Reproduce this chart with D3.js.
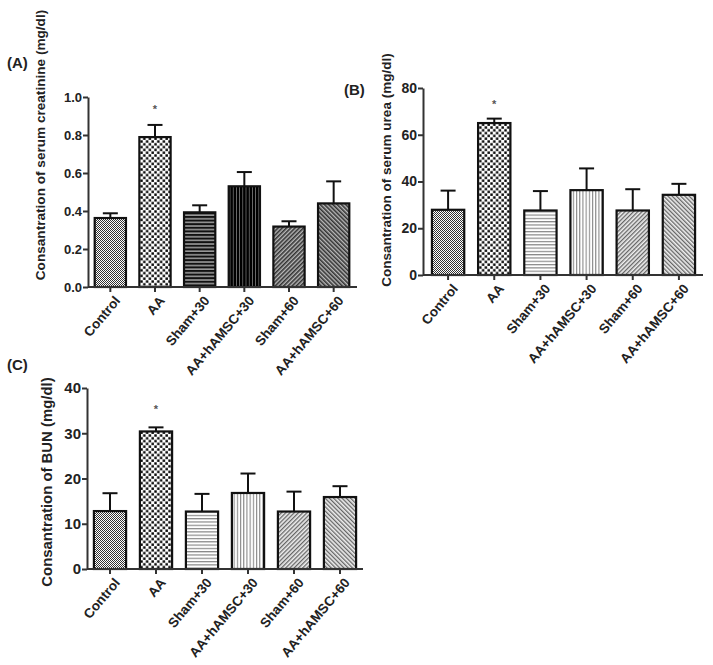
<!DOCTYPE html>
<html><head><meta charset="utf-8">
<script src="https://cdn.jsdelivr.net/npm/d3@7"></script>
<style>
body{margin:0;background:#fff;}
text{font-family:"Liberation Sans",Arial,sans-serif;font-weight:bold;fill:#222;}
</style></head>
<body>
<svg id="chart" width="713" height="665"></svg>
<script>
const categories = ["Control","AA","Sham+30","AA+hAMSC+30","Sham+60","AA+hAMSC+60"];
const creatinineMean = [0.363, 0.789, 0.393, 0.53, 0.318, 0.44];
const creatinineErr  = [0.025, 0.064, 0.037, 0.075, 0.028, 0.116];
const ureaMean = [27.9, 65.0, 27.6, 36.3, 27.6, 34.3];
const ureaErr  = [8.2, 1.9, 8.3, 9.3, 9.1, 4.7];
const bunMean = [12.8, 30.4, 12.7, 16.8, 12.7, 15.9];
const bunErr  = [3.95, 0.9, 3.9, 4.3, 4.4, 2.4];
const creatinineTicks = [0, 0.2, 0.4, 0.6, 0.8, 1.0];
const ureaTicks = [0, 20, 40, 60, 80];
const bunTicks = [0, 10, 20, 30, 40];

const svg = d3.select("#chart");
const defs = svg.append("defs");

function pat(id, w, h, bg, draw, transform){
  const p = defs.append("pattern").attr("id", id).attr("patternUnits","userSpaceOnUse")
    .attr("width", w).attr("height", h);
  if (transform) p.attr("patternTransform", transform);
  p.append("rect").attr("width", w).attr("height", h).attr("fill", bg);
  draw(p);
}
["d","l"].forEach(s=>{
  pat("ctrl"+s, 2, 2, "#fff", p=>{
    p.append("rect").attr("x",0).attr("y",0).attr("width",1).attr("height",1).attr("fill", "#333");
    p.append("rect").attr("x",1).attr("y",1).attr("width",1).attr("height",1).attr("fill", "#333");
  });
  pat("aa"+s, 5.6, 5.6, "#fff", p=>{
    p.append("rect").attr("x",0.3).attr("y",0.3).attr("width",2.4).attr("height",2.4).attr("fill","#000");
    p.append("rect").attr("x",3.1).attr("y",3.1).attr("width",2.4).attr("height",2.4).attr("fill","#000");
  });
});
pat("hd", 4, 3.6, "#999", p=>{ p.append("rect").attr("x",0).attr("y",0).attr("width",4).attr("height",2).attr("fill","#111"); });
pat("hl", 4, 3.3, "#fff", p=>{ p.append("rect").attr("x",0).attr("y",0).attr("width",4).attr("height",1.2).attr("fill","#888"); });
pat("vd", 3.2, 4, "#777", p=>{ p.append("rect").attr("x",0).attr("y",0).attr("width",2.4).attr("height",4).attr("fill","#000"); });
pat("vl", 3.2, 4, "#fff", p=>{ p.append("rect").attr("x",0).attr("y",0).attr("width",1.1).attr("height",4).attr("fill","#888"); });
pat("sd", 3, 3, "#bbb", p=>{ p.append("rect").attr("x",0).attr("y",0).attr("width",1.6).attr("height",3).attr("fill","#333"); }, "rotate(45)");
pat("sl", 3, 3, "#eee", p=>{ p.append("rect").attr("x",0).attr("y",0).attr("width",1.3).attr("height",3).attr("fill","#666"); }, "rotate(45)");
pat("bd", 3, 3, "#bbb", p=>{ p.append("rect").attr("x",0).attr("y",0).attr("width",1.6).attr("height",3).attr("fill","#333"); }, "rotate(-45)");
pat("bl", 3, 3, "#eee", p=>{ p.append("rect").attr("x",0).attr("y",0).attr("width",1.3).attr("height",3).attr("fill","#666"); }, "rotate(-45)");

const fillsDark  = ["url(#ctrld)","url(#aad)","url(#hd)","url(#vd)","url(#sd)","url(#bd)"];
const fillsLight = ["url(#ctrll)","url(#aal)","url(#hl)","url(#vl)","url(#sl)","url(#bl)"];

function panel(cfg){
  const g = svg.append("g");
  const x = d3.scaleBand().domain(categories).range([cfg.x0, cfg.x1]).paddingInner(0.3).paddingOuter(0.15);
  const y = d3.scaleLinear().domain(cfg.domain).range([cfg.yBottom, cfg.yTop]);
  const data = categories.map((c,i)=>({c, m: cfg.mean[i], e: cfg.err[i], f: cfg.fills[i]}));

  g.selectAll("line.err").data(data).join("line")
    .attr("x1", d=>x(d.c)+x.bandwidth()/2).attr("x2", d=>x(d.c)+x.bandwidth()/2)
    .attr("y1", d=>y(d.m)).attr("y2", d=>y(d.m+d.e))
    .attr("stroke","#111").attr("stroke-width",2);
  g.selectAll("line.cap").data(data).join("line")
    .attr("x1", d=>x(d.c)+x.bandwidth()/2-7.5).attr("x2", d=>x(d.c)+x.bandwidth()/2+7.5)
    .attr("y1", d=>y(d.m+d.e)).attr("y2", d=>y(d.m+d.e))
    .attr("stroke","#111").attr("stroke-width",2);

  g.selectAll("rect.bar").data(data).join("rect")
    .attr("x", d=>x(d.c)).attr("width", x.bandwidth())
    .attr("y", d=>y(d.m)).attr("height", d=>y(0)-y(d.m))
    .attr("fill", d=>d.f).attr("stroke","#111").attr("stroke-width",2.2);

  const ya = g.append("g").attr("transform",`translate(${cfg.axisX},0)`)
    .call(d3.axisLeft(y).tickValues(cfg.ticks).tickFormat(cfg.fmt).tickSize(5).tickSizeOuter(0));
  ya.attr("font-size", null);
  ya.select(".domain").attr("stroke","#333").attr("stroke-width",2);
  ya.selectAll(".tick line").attr("stroke","#333").attr("stroke-width",2);
  ya.selectAll(".tick text").style("font-size", cfg.tickFont+"px").attr("fill","#333").attr("x",-6);

  const xa = g.append("g").attr("transform",`translate(0,${cfg.yBottom})`)
    .call(d3.axisBottom(x).tickSize(5).tickSizeOuter(0));
  xa.attr("font-size", null);
  xa.select(".domain").attr("d", `M${cfg.axisX},0H${cfg.xEnd}`).attr("stroke","#333").attr("stroke-width",2.2);
  xa.selectAll(".tick line").attr("stroke","#333").attr("stroke-width",2);
  xa.selectAll(".tick text").style("font-size", "13.5px").attr("fill","#222")
    .attr("text-anchor","end").attr("dy","0.35em")
    .attr("transform","translate(7,11) rotate(-50)").attr("x",0).attr("y",0);

  g.append("text").attr("x", x("AA")+x.bandwidth()/2).attr("y", cfg.starY)
    .attr("text-anchor","middle").style("font-size","11px").style("fill","#555").text("*");

  g.append("text").attr("transform",`translate(${cfg.labX},${cfg.labY}) rotate(-90)`)
    .attr("text-anchor","middle").attr("dy","0.35em").style("font-size",cfg.labFont+"px").text(cfg.label);
  g.append("text").attr("x",cfg.letX).attr("y",cfg.letY).style("font-size","15px").text(cfg.letter);
}

panel({x0:88, x1:356, axisX:88, xEnd:357, domain:[0,1], yBottom:287, yTop:97,
  mean:creatinineMean, err:creatinineErr, fills:fillsDark, ticks:creatinineTicks, fmt:d3.format(".1f"),
  tickFont:13, starY:113, labX:40, labY:145, labFont:13.6,
  label:"Consantration of serum creatinine (mg/dl)", letter:"(A)", letX:7, letY:68});

panel({x0:425, x1:702, axisX:423, xEnd:703, domain:[0,80], yBottom:275, yTop:88,
  mean:ureaMean, err:ureaErr, fills:fillsLight, ticks:ureaTicks, fmt:d3.format("d"),
  tickFont:14, starY:108, labX:386, labY:170, labFont:13.5,
  label:"Consantration of serum urea (mg/dl)", letter:"(B)", letX:344, letY:95});

panel({x0:87, x1:363, axisX:87, xEnd:363, domain:[0,40], yBottom:569, yTop:388,
  mean:bunMean, err:bunErr, fills:fillsLight, ticks:bunTicks, fmt:d3.format("d"),
  tickFont:15, starY:413, labX:47, labY:482, labFont:14.9,
  label:"Consantration of BUN (mg/dl)", letter:"(C)", letX:7, letY:370});
</script>
</body></html>
